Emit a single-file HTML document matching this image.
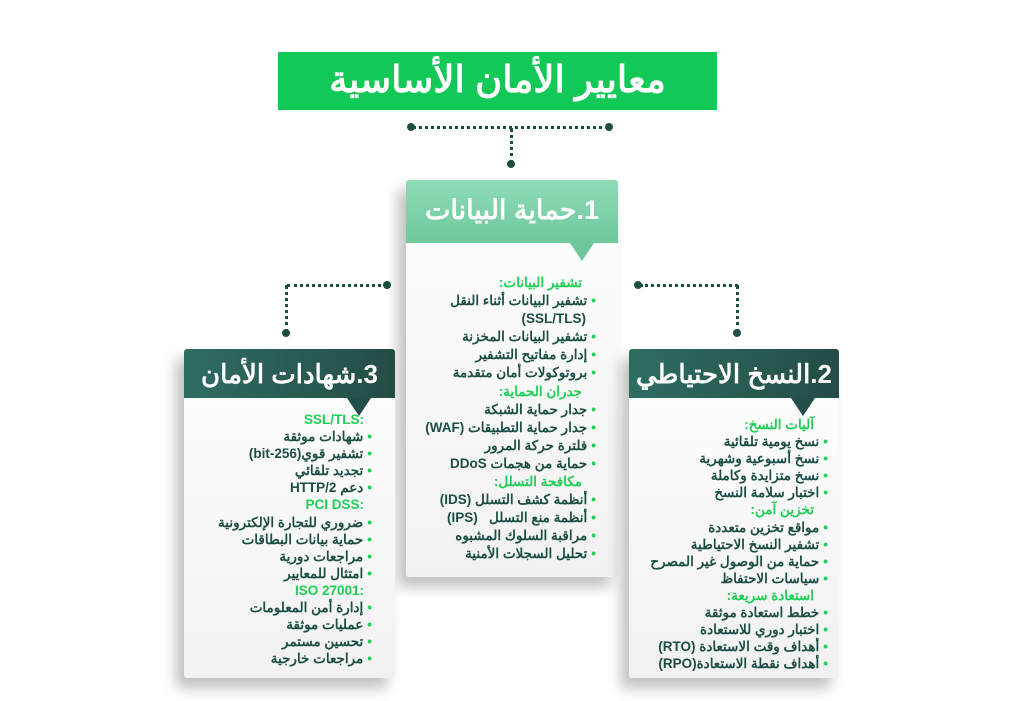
<!DOCTYPE html>
<html><head><meta charset="utf-8"><style>
body{margin:0;width:1024px;height:701px;background:#fff;position:relative;overflow:hidden;font-family:"Liberation Sans","Noto Sans CJK SC",sans-serif}
.abs{position:absolute}
.title{left:278px;top:52px;width:439px;height:58px;background:#12c957;color:#fff;font-weight:bold;font-size:37px;text-align:center;line-height:56px;direction:rtl}
.card{position:absolute;background:linear-gradient(#fff,#f1f1f1);border-radius:3px;box-shadow:-8px 10px 14px rgba(0,0,0,0.25)}
.hd{position:absolute;left:0;right:0;top:0;color:#fff;font-weight:bold;direction:rtl;text-align:center}
.hd:after{content:"";position:absolute;bottom:-18px;right:24px;border-left:12px solid transparent;border-right:12px solid transparent;border-top:18px solid var(--c)}
.list{position:absolute;direction:rtl;font-size:13.5px;line-height:18.1px;color:#1c4e44;font-weight:bold}
.list div{white-space:nowrap}
.list .h{color:#1fcf55;padding-right:14px}
.list .hl{color:#1fcf55;padding-right:8px;direction:ltr;text-align:right}
.list .i:before{content:"•";color:#1fcf55;margin-left:4px}
.dot{position:absolute;width:8px;height:8px;border-radius:50%;background:#1d4f45}
.dh{position:absolute;height:0;border-top:3px dotted #1d4f45}
.dv{position:absolute;width:0;border-left:3px dotted #1d4f45}
</style></head><body>
<div class="abs title">معايير الأمان الأساسية</div>
<div class="dh" style="left:412px;top:126px;width:198px"></div>
<div class="dot" style="left:407px;top:123px"></div><div class="dot" style="left:605px;top:123px"></div>
<div class="dv" style="left:510px;top:128px;height:36px"></div>
<div class="dot" style="left:507px;top:160px"></div>

<div class="dh" style="left:287px;top:284px;width:100px"></div>
<div class="dot" style="left:383px;top:281px"></div>
<div class="dv" style="left:285px;top:285px;height:48px"></div>
<div class="dot" style="left:282px;top:329px"></div>

<div class="dh" style="left:640px;top:284px;width:98px"></div>
<div class="dot" style="left:634px;top:281px"></div>
<div class="dv" style="left:736px;top:285px;height:48px"></div>
<div class="dot" style="left:733px;top:329px"></div>

<div class="card" style="left:406px;top:180px;width:212px;height:397px">
 <div class="hd" style="--c:#6ec89c;height:63px;background:linear-gradient(#8edcb8,#6ec89c);font-size:27px;line-height:60px;border-radius:3px 3px 0 0">1.حماية البيانات</div>
</div>
<div class="list" style="right:428px;top:274px">
<div class="h">تشفير البيانات:</div>
<div class="i">تشفير البيانات أثناء النقل</div>
<div style="padding-right:10px">(SSL/TLS)</div>
<div class="i">تشفير البيانات المخزنة</div>
<div class="i">إدارة مفاتيح التشفير</div>
<div class="i">بروتوكولات أمان متقدمة</div>
<div class="h">جدران الحماية:</div>
<div class="i">جدار حماية الشبكة</div>
<div class="i">جدار حماية التطبيقات (WAF)</div>
<div class="i">فلترة حركة المرور</div>
<div class="i">حماية من هجمات DDoS</div>
<div class="h">مكافحة التسلل:</div>
<div class="i">أنظمة كشف التسلل (IDS)</div>
<div class="i">أنظمة منع التسلل &nbsp;&nbsp;(IPS)</div>
<div class="i">مراقبة السلوك المشبوه</div>
<div class="i">تحليل السجلات الأمنية</div>
</div>

<div class="card" style="left:184px;top:349px;width:211px;height:329px">
 <div class="hd" style="--c:#244f48;height:49px;background:linear-gradient(90deg,#2f6d62,#234c45);font-size:26px;line-height:50px;border-radius:3px 3px 0 0">3.شهادات الأمان</div>
</div>
<div class="list" style="right:652px;top:411px;line-height:17.1px">
<div class="hl">SSL/TLS:</div>
<div class="i">شهادات موثقة</div>
<div class="i">تشفير قوي(256-bit)</div>
<div class="i">تجديد تلقائي</div>
<div class="i">دعم HTTP/2</div>
<div class="hl">PCI DSS:</div>
<div class="i">ضروري للتجارة الإلكترونية</div>
<div class="i">حماية بيانات البطاقات</div>
<div class="i">مراجعات دورية</div>
<div class="i">امتثال للمعايير</div>
<div class="hl">ISO 27001:</div>
<div class="i">إدارة أمن المعلومات</div>
<div class="i">عمليات موثقة</div>
<div class="i">تحسين مستمر</div>
<div class="i">مراجعات خارجية</div>
</div>

<div class="card" style="left:629px;top:349px;width:210px;height:329px">
 <div class="hd" style="--c:#244f48;height:49px;background:linear-gradient(90deg,#2f6d62,#234c45);font-size:26px;line-height:50px;border-radius:3px 3px 0 0">2.النسخ الاحتياطي</div>
</div>
<div class="list" style="right:196px;top:416px;line-height:17.1px">
<div class="h">آليات النسخ:</div>
<div class="i">نسخ يومية تلقائية</div>
<div class="i">نسخ أسبوعية وشهرية</div>
<div class="i">نسخ متزايدة وكاملة</div>
<div class="i">اختبار سلامة النسخ</div>
<div class="h">تخزين آمن:</div>
<div class="i">مواقع تخزين متعددة</div>
<div class="i">تشفير النسخ الاحتياطية</div>
<div class="i">حماية من الوصول غير المصرح</div>
<div class="i">سياسات الاحتفاظ</div>
<div class="h">استعادة سريعة:</div>
<div class="i">خطط استعادة موثقة</div>
<div class="i">اختبار دوري للاستعادة</div>
<div class="i">أهداف وقت الاستعادة (RTO)</div>
<div class="i">أهداف نقطة الاستعادة(RPO)</div>
</div>
</body></html>
